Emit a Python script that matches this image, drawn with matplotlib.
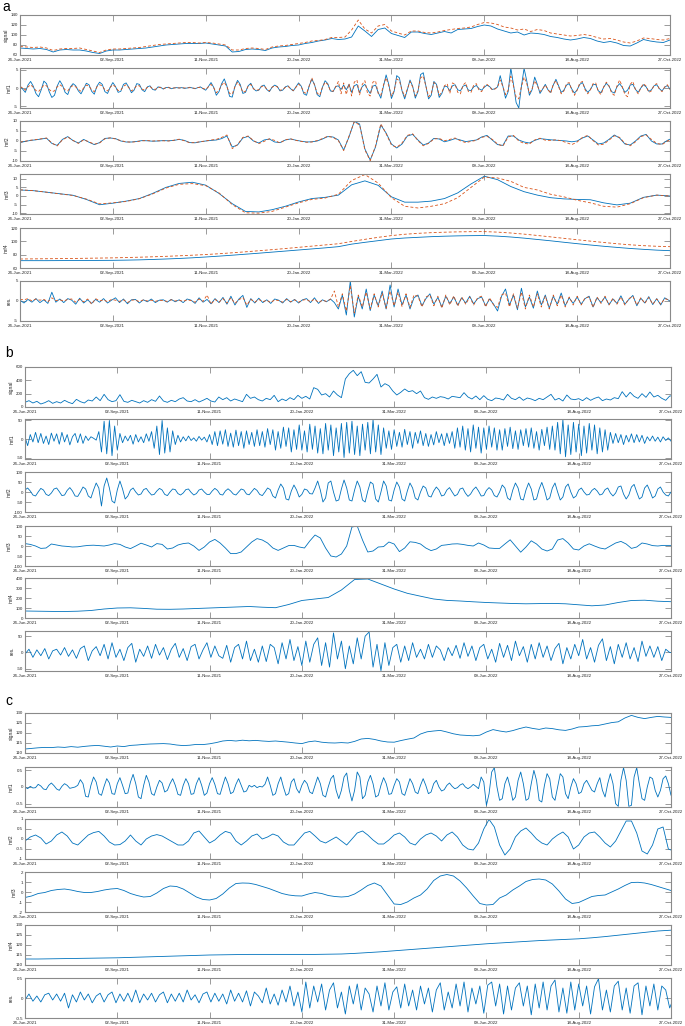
import numpy as np
import matplotlib.pyplot as plt
import matplotlib.dates as mdates

plt.rcParams['font.family'] = ['Liberation Sans', 'DejaVu Sans']
plt.rcParams['axes.unicode_minus'] = False

start = np.datetime64('2021-06-24')
end = np.datetime64('2022-10-27')
tick_dates = np.array(['2021-06-24', '2021-09-02', '2021-11-11', '2022-01-20',
                       '2022-03-31', '2022-06-09', '2022-08-18', '2022-10-27'], dtype='datetime64[D]')

BLUE = '#0072BD'
ORANGE = '#D95319'

# ---------------- panel a (blue = series 1, orange dashed = series 2) ----------------
# signal, every 5 days
a_signal = [74, 73, 72, 73, 71, 66, 70, 71, 70, 70,
            68, 65, 63, 68, 70, 70, 71, 72, 73, 74,
            76, 78, 80, 81, 82, 83, 83, 83, 84, 82,
            80, 78, 66, 67, 71, 72, 71, 69, 74, 76,
            77, 79, 80, 83, 85, 88, 90, 93, 91, 92,
            96, 118, 108, 97, 111, 114, 103, 99, 95, 106,
            106, 103, 101, 104, 107, 104, 111, 112, 113, 117,
            120, 118, 112, 108, 104, 106, 100, 104, 103, 101,
            97, 95, 92, 90, 92, 95, 93, 88, 85, 87,
            84, 79, 78, 84, 91, 88, 86, 85, 90, 90]
a_signal2 = [77, 76, 75, 76, 74, 69, 72, 73, 73, 74,
             71, 68, 65, 70, 72, 72, 73, 74, 75, 77,
             79, 81, 82, 83, 84, 85, 85, 84, 85, 84,
             82, 80, 70, 70, 73, 74, 73, 71, 76, 78,
             79, 81, 83, 85, 88, 89, 91, 95, 95, 96,
             110, 130, 112, 104, 118, 121, 108, 104, 100, 108,
             108, 105, 104, 106, 109, 111, 113, 114, 116, 121,
             125, 124, 121, 116, 114, 110, 112, 107, 111, 109,
             104, 102, 100, 98, 99, 101, 99, 95, 92, 93,
             90, 86, 84, 88, 94, 93, 91, 90, 93, 93]

# imf1, every 2 days
a_imf1 = [0.5, -0.3, -1.2, 0.8, 1.8, 0.5, -1.5, -2.4, -0.5, 1.9,
          1.2, -1.0, -2.6, -2.0, 0.5, 2.0, 0.8, -1.2, -1.8, 0.3,
          1.2, 0.6, -0.8, -1.6, -0.2, 1.3, 0.9, -0.9, -1.7, 0.5,
          1.6, 1.0, -1.0, -1.5, 0.2, 1.5, 0.4, -1.2, -0.9, 1.0,
          1.4, 0.2, -1.3, -0.6, 1.2, 1.0, -0.5, -1.0, 0.3, 0.6,
          -0.4, -0.6, 0.3, 0.2, -0.3, 0.1, 0.2, -0.2, 0.0, 0.1,
          0.0, 0.1, -0.1, 0.0, 0.2, 0.0, -0.2, 0.1, 0.3, -0.2,
          -0.6, 0.4, 1.5, 0.2, -2.0, -1.0, 1.2, 2.5, 0.5, -2.3,
          -2.5, 0.4, 2.1, 1.0, -1.5, -1.2, 0.6, 1.3, -0.2, -0.8,
          -0.6, 0.5, 0.8, -0.4, -1.0, 0.2, 0.8, 0.4, -0.8, -0.6,
          0.3, 0.6, -0.2, -0.8, 0.3, 1.4, 0.5, -1.6, -2.0, 0.6,
          2.4, 1.0, -1.8, -2.4, 0.2, 2.0, 1.2, -0.8, -1.0, 0.4,
          0.6, -0.4, 0.8, -0.5, 1.0, -1.2, 0.6, 1.0, -1.3, 0.4,
          1.0, -0.4, -1.5, 0.5, 0.8, -1.2, -2.8, 0.5, 3.6, 1.0,
          -2.9, -1.0, 3.4, 2.8, -0.8, -3.0, -0.5, 2.2, 0.5, -2.8,
          -1.0, 3.7, 4.2, 0.5, -3.0, -2.0, 1.8, 1.0, -2.6, -1.5,
          0.5, 0.4, -0.8, 0.6, 0.9, -0.5, -0.8, 0.5, 0.8, -0.6,
          -0.7, 0.3, 0.7, -0.2, -0.6, 0.2, 0.8, 0.4, -0.4, -0.2,
          0.3, 3.4, 0.5, -2.8, -1.0, 5.5, 1.0, -4.0, -5.5, 0.5,
          5.4, 2.0, -2.0, -0.5, 3.0, 1.0, -1.5, -0.3, 1.0, -0.5,
          -1.2, 0.8, 2.4, 0.6, -1.2, -0.6, 0.8, 1.2, -0.3, -1.4,
          -0.5, 1.0, 1.5, -0.2, -1.2, -0.4, 0.9, 1.0, -0.8, -1.3,
          0.2, 1.3, 0.5, -1.0, -1.4, 0.3, 1.2, 0.2, -1.2, -0.6,
          0.8, 1.0, -0.4, -1.2, 0.0, 0.9, 0.3, -0.9, -0.5, 0.6,
          0.9, -0.2, -0.8, 0.2, 0.7, -0.3, -0.5, 0.4, 0.5, 0.2]
a_imf1_2 = [0.4, 0.0, -0.6, 0.3, 0.9, 0.2, -0.7, -1.0, -0.1, 0.8,
            0.6, -0.4, -1.0, -0.8, 0.3, 0.9, 0.4, -0.5, -0.8, 0.2,
            0.7, 0.3, -0.4, -0.9, 0.0, 0.8, 0.5, -0.5, -1.0, 0.3,
            0.9, 0.6, -0.5, -0.8, 0.2, 0.9, 0.3, -0.7, -0.6, 0.5,
            0.9, 0.1, -0.8, -0.3, 0.7, 0.6, -0.3, -0.6, 0.2, 0.4,
            -0.2, -0.4, 0.2, 0.1, -0.2, 0.1, 0.1, -0.1, 0.0, 0.1,
            0.0, 0.1, 0.0, 0.0, 0.1, 0.0, -0.1, 0.1, 0.2, -0.1,
            -0.4, 0.3, 1.0, 0.1, -1.3, -0.6, 0.8, 1.6, 0.3, -1.5,
            -1.7, 0.3, 1.6, 0.6, -1.2, -0.9, 0.5, 1.0, -0.2, -0.6,
            -0.5, 0.4, 0.6, -0.3, -0.8, 0.2, 0.6, 0.3, -0.6, -0.5,
            0.2, 0.5, -0.2, -0.7, 0.2, 1.1, 0.4, -1.2, -1.5, 0.5,
            2.8, 0.8, -1.4, -2.0, 0.2, 1.6, 1.0, -0.7, -0.9, 0.3,
            1.8, -1.6, 1.4, -1.8, 1.2, -2.2, 1.6, 2.2, -1.9, 1.0,
            2.0, -1.5, -2.2, 1.6, 2.0, -1.5, -2.0, 0.8, 2.8, 0.6,
            -2.2, -0.8, 2.5, 2.0, -0.6, -2.3, -0.3, 1.8, 0.3, -2.2,
            -0.8, 2.8, 3.3, 0.4, -2.4, -1.6, 1.5, 0.8, -2.0, -1.2,
            0.6, 1.2, -1.5, 1.4, 1.0, -1.2, -1.6, 0.8, 1.5, -1.0,
            -1.2, 0.8, 1.2, -0.6, -1.0, 0.5, 1.0, 0.3, -0.5, -0.3,
            0.3, 2.2, 0.4, -1.8, -0.6, 3.2, 0.6, -2.5, -3.0, 0.4,
            3.0, 1.2, -1.4, -0.3, 2.0, 0.6, -1.0, -0.2, 0.8, -0.4,
            -1.5, 1.0, 2.0, 0.4, -1.6, -0.8, 1.2, 1.5, -0.6, -2.0,
            -0.6, 1.4, 1.8, -0.5, -1.6, -0.5, 1.2, 1.4, -1.0, -1.8,
            0.3, 1.6, 0.6, -1.4, -2.0, 0.5, 2.2, 0.4, -1.8, -2.4,
            1.0, 1.8, -0.5, -1.6, 0.0, 1.2, 0.5, -1.2, -0.8, 0.8,
            1.2, -0.3, -1.0, 0.3, 0.9, -0.4, -0.6, 0.5, 0.7, 0.3]

# imf2, every 4 days
a_imf2 = [-0.8, -0.2, 0.3, 0.6, 1.0, 1.4, -1.2, -2.2, 0.8, 2.2,
          0.2, -1.0, 0.8, -0.6, -1.8, -0.8, 1.3, 1.5, 1.2, 0.0,
          -0.5, -0.5, -0.2, 0.2, 0.1, -0.1, 0.0, 0.2, 0.1, 0.3,
          0.8, 0.3, -0.8, -0.9, -0.4, 0.0, 0.3, 0.5, 1.2, 2.5,
          -3.0, -2.0, 1.5, 2.3, 0.0, -1.0, 0.5, 1.0, -0.5, -0.8,
          0.5, 1.0, 0.4, -0.1, -0.5, -0.4, 0.0, 1.0, 2.2, 2.0,
          0.5, -4.5, 2.0, 9.8, 8.5, -4.0, -9.5, -3.0, 8.0, 4.0,
          -1.5, -3.5, -1.5, 2.5, 3.3, 0.5, -2.0, -1.0, 1.3, 1.0,
          -0.4, 0.3, 1.2, 0.5, -0.3, 0.1, 0.5, 2.0, 2.8, 0.5,
          -1.8, -2.2, 2.5, 2.5, 0.5, -0.5, -1.0, 0.3, 1.2, 0.9,
          0.6, 0.4, 0.2, 0.0, -0.4, 0.0, 1.5, 2.5, 0.5, -1.5,
          -1.0, 0.8, 3.0, 1.5, -1.5, -2.0, 0.0, 2.5, 3.3, 0.0,
          -1.5, -1.5, 0.3, 1.5, 1.5, 1.0, 0.5, 0.0, 0.0, 0.0]
a_imf2_2 = [-0.6, -0.1, 0.4, 0.7, 1.1, 1.5, -1.0, -2.5, 0.6, 2.0,
            0.3, -1.2, 0.6, -0.4, -1.6, -1.0, 1.1, 1.6, 1.0, 0.2,
            -0.4, -0.6, -0.3, 0.1, 0.2, 0.0, 0.1, 0.1, 0.0, 0.4,
            0.9, 0.1, -0.9, -0.8, -0.3, 0.0, 0.5, 0.8, 1.8, 3.0,
            -3.8, -1.8, 1.8, 2.5, 0.2, -1.3, -0.2, 1.1, 0.3, -1.0,
            0.6, 1.1, 0.3, -0.2, -0.6, -0.5, 0.2, 1.2, 2.4, 1.8,
            0.2, -4.8, 2.4, 9.6, 8.0, -4.5, -9.8, -2.5, 8.6, 3.6,
            -2.0, -3.2, -1.0, 2.8, 3.6, 0.2, -2.4, -1.2, 1.0, 1.3,
            0.1, 0.8, 1.5, 0.1, -0.8, -0.2, 0.3, 1.8, 2.4, 0.8,
            -1.5, -2.6, 2.0, 2.8, 0.0, -1.2, -1.5, 0.5, 1.4, 0.4,
            0.3, 0.6, 0.1, -0.8, -1.8, -0.5, 1.8, 2.8, 0.2, -2.0,
            -1.6, 0.4, 2.6, 1.8, -1.2, -2.4, -0.4, 2.2, 3.0, 0.8,
            -1.2, -1.8, 0.0, 1.3, 1.6, 1.0, 0.5, 0.0, 0.0, 0.0]

# imf3, every 10 days
a_imf3 = [3.5, 3.1, 2.2, 1.3, 0.4, -2.0, -5.1, -4.2, -3.0, -1.5,
          1.5, 5.0, 7.3, 8.0, 6.3, 1.5, -4.5, -9.0, -9.3, -8.0,
          -6.0, -3.5, -1.5, -0.8, 0.5, 6.5, 8.8, 6.2, -0.5, -3.6,
          -3.6, -3.0, -1.5, 1.8, 7.0, 11.5, 9.5, 5.5, 2.5, 0.5,
          -1.0, -1.7, -2.0, -2.2, -4.0, -5.2, -4.2, -0.8, 0.5, 0.0]
a_imf3_2 = [3.6, 3.1, 2.2, 1.2, 0.3, -1.8, -4.6, -4.0, -3.2, -1.6,
            1.2, 4.6, 6.8, 7.2, 6.0, 1.8, -5.0, -9.8, -10.0, -9.0,
            -6.5, -4.0, -2.0, -1.2, 1.0, 9.0, 12.5, 7.5, -1.0, -6.0,
            -7.0, -6.0, -4.5, -1.0, 5.0, 11.0, 10.5, 8.5, 5.0, 3.5,
            1.0, -0.5, -2.5, -4.0, -6.0, -6.5, -4.5, -1.0, 0.5, 0.0]

# imf4, every 10 days
a_imf4 = [71.0, 71.0, 71.0, 71.1, 71.2, 71.3, 71.4, 71.5, 71.8, 72.2,
          72.8, 73.5, 74.3, 75.3, 76.5, 77.8, 79.2, 80.7, 82.2, 83.8,
          85.4, 87.0, 88.6, 90.2, 92.0, 95.8, 98.5, 101.0, 103.5, 105.0,
          106.0, 107.0, 107.7, 108.2, 108.5, 108.7, 107.8, 106.5, 104.8, 102.8,
          100.8, 98.6, 96.5, 94.5, 92.6, 90.9, 89.3, 88.0, 86.8, 86.0]
a_imf4_2 = [73.5, 73.7, 73.9, 74.1, 74.3, 74.6, 74.9, 75.2, 75.7, 76.2,
            76.8, 77.5, 78.3, 79.2, 80.2, 81.4, 82.8, 84.3, 85.9, 87.5,
            89.2, 91.0, 92.8, 94.6, 96.4, 99.8, 103.0, 106.0, 108.6, 110.6,
            112.0, 113.0, 113.7, 114.2, 114.5, 114.6, 113.8, 112.5, 110.8, 108.8,
            106.7, 104.5, 102.4, 100.3, 98.3, 96.4, 94.8, 93.5, 92.6, 92.0]

# residual, every 3 days
a_res = [0.2, -0.5, 0.4, -0.3, 0.6, -0.4, 0.3, -0.6, 2.2, -0.3,
         0.5, -0.4, 0.6, 0.2, -0.8, 0.7, -0.5, 0.3, -0.6, 0.4,
         -0.3, 0.6, -0.5, 0.2, 0.8, -0.4, 0.5, -0.7, 0.3, 0.4,
         -0.5, 0.3, -0.2, 0.5, -0.4, 0.2, 0.3, -0.3, 0.4, -0.2,
         0.3, -0.4, 0.5, 0.2, -0.6, 0.8, -0.3, 0.4, -0.7, 0.6,
         -0.4, 0.9, -0.8, 1.2, -1.0, 0.5, 1.4, -1.6, 0.6, -0.5,
         0.7, -0.4, 0.3, -0.6, 0.5, 0.2, -0.5, 0.6, -0.3, 0.4,
         -0.5, 0.3, 0.6, -0.4, 0.8, -0.6, 0.3, -0.2, 0.5, -0.4,
         -2.0, 1.5, -3.5, 5.0, -4.0, 1.2, -2.0, 3.0, -2.4, 1.5,
         -1.2, 2.5, -2.0, 4.0, -1.5, 3.0, -1.0, 1.5, -2.0, 0.8,
         1.5, -1.2, 0.6, 1.8, -0.8, 0.9, -1.5, 1.2, -0.6, 1.0,
         -1.0, 0.8, -0.5, 1.2, -0.7, 0.6, 1.0, -1.2, 0.5, -0.8,
         -2.5, 1.2, 3.0, -1.0, 1.5, -2.2, 3.2, -1.5, 1.0, -1.8,
         2.5, -1.0, 1.5, -1.8, 1.2, -0.8, 2.0, -1.2, 0.8, -0.6,
         1.0, -0.8, 0.6, 1.2, -1.5, 0.8, -0.4, 1.0, -0.9, 0.5,
         -0.6, 1.3, -0.8, 0.4, 1.4, -1.2, 0.7, -0.5, 1.1, -0.9,
         0.6, -1.0, 0.8, 0.2, -0.5, 0.4, 0.0, 0.0, 0.0, 0.0]
a_res2 = [0.4, 0.3, 0.6, 0.0, 0.5, 0.2, 0.4, -0.2, 0.8, 0.1,
          0.3, 0.0, 0.4, 0.5, -0.3, 0.4, -0.2, 0.5, -0.8, 0.6,
          0.0, 0.3, -0.2, 0.4, 0.2, -0.1, 0.3, -0.4, 0.2, 0.3,
          -0.2, 0.3, 0.0, 0.2, -0.1, 0.2, 0.1, -0.1, 0.3, 0.0,
          0.2, -0.1, 0.3, 0.1, -0.3, 0.5, -0.1, 1.5, -0.8, 0.4,
          -0.3, 0.6, -0.5, 0.8, -0.6, 0.3, 0.9, -1.0, 0.4, -0.3,
          0.4, -0.2, 0.2, -0.4, 0.3, 0.1, -0.3, 0.4, -0.2, 0.3,
          -0.3, 0.2, 0.4, -0.2, 0.5, -0.4, 0.2, -0.1, 0.4, 2.5,
          -1.5, 1.8, -2.5, 3.8, -3.0, 1.5, -1.5, 2.2, -2.0, 1.8,
          -1.5, 2.0, -1.8, 2.5, -1.2, 2.2, -1.4, 1.8, -1.6, 1.5,
          1.2, -1.5, 1.0, 1.5, -1.2, 1.2, -1.8, 1.5, -1.0, 1.3,
          -1.3, 1.0, -0.8, 1.0, -1.0, 0.8, 1.2, -1.5, 0.8, -1.0,
          -1.6, 1.5, 2.0, -1.5, 1.8, -1.8, 2.2, -2.0, 1.5, -1.5,
          1.8, -1.5, 1.2, -2.0, 1.5, -1.2, 1.5, -1.5, 1.0, -1.0,
          1.2, -1.0, 0.8, 1.0, -1.6, 1.0, -0.6, 1.2, -1.0, 0.7,
          -0.8, 1.0, -1.0, 0.6, 1.2, -1.0, 0.8, -0.6, 0.9, -0.8,
          0.5, -0.8, 0.6, 0.3, -0.4, 0.3, 0.0, 0.0, 0.0, 0.0]

# ---------------- panel b ----------------
# signal, every 3 days
b_signal = [70, 95, 60, 85, 45, 65, 95, 55, 80, 60,
            100, 70, 50, 115, 80, 60, 105, 90, 150, 95,
            190, 110, 80, 95, 185, 85, 70, 100, 80, 60,
            95, 70, 110, 85, 165, 90, 70, 100, 80, 120,
            140, 90, 80, 110, 75, 100, 130, 90, 75, 150,
            110, 140, 90, 120, 100, 80, 190, 130, 150, 110,
            90, 130, 110, 175, 80, 120, 95, 140, 110, 175,
            130, 160, 120, 290, 265, 180, 200, 150, 240, 180,
            140, 420, 500, 550, 470, 530, 370, 360, 420, 490,
            300, 350, 320, 240, 180, 220, 270, 230, 245, 200,
            240, 140, 115, 150, 130, 155, 145, 120, 160, 150,
            140, 215, 150, 120, 165, 110, 170, 115, 95, 135,
            125, 105, 190, 130, 110, 150, 100, 135, 120, 95,
            130, 110, 150, 190, 105, 130, 90, 180, 120, 110,
            125, 95, 140, 100, 130, 150, 95, 120, 105, 140,
            125, 230, 150, 220, 160, 130, 200, 145, 225, 150,
            175, 130, 100, 165, 170, 160, 160, 160, 160, 160]

# imf1, every 2 days
b_imf1 = [5, -18, 12, -8, 18, -10, 15, -12, 8, -15,
          16, -6, 14, -14, 18, -8, 12, -16, 6, 15,
          -10, 14, -12, 8, -4, 6, 2, -3, 20, -35,
          48, -40, 50, -45, 35, -30, 15, -10, 8, -5,
          10, -14, 12, -8, 6, -10, 14, -6, 20, -25,
          35, -42, 50, -38, 30, -35, 22, -15, 10, -8,
          6, -5, 8, -4, 3, -6, 7, -3, 5, -8,
          12, -15, 20, -18, 22, -14, 25, -20, 16, -22,
          24, -18, 20, -25, 22, -15, 18, -20, 25, -18,
          20, -22, 28, -15, 25, -30, 20, -25, 32, -20,
          30, -35, 25, -28, 38, -30, 22, -35, 40, -28,
          35, -38, 28, -40, 42, -30, 38, -45, 30, -35,
          42, -50, 45, -38, 48, -42, 35, -45, 40, -30,
          45, -40, 52, -35, 38, -42, 30, -25, 22, -28,
          25, -20, 18, -22, 26, -15, 20, -25, 18, -12,
          22, -18, 15, -20, 12, -16, 20, -10, 14, -18,
          16, -12, 20, -25, 30, -22, 35, -30, 28, -35,
          38, -25, 32, -38, 30, -28, 35, -22, 30, -30,
          25, -30, 28, -20, 32, -26, 22, -28, 25, -18,
          28, -22, 30, -25, 20, -30, 26, -18, 32, -28,
          35, -30, 45, -40, 52, -48, 38, -42, 45, -35,
          40, -45, 35, -38, 42, -30, 38, -40, 30, -35,
          25, -30, 18, -12, 15, -10, 12, -15, 10, -8,
          14, -10, 12, -8, 10, -12, 6, -5, 8, -6,
          5, -8, 6, -4, 3, -6, 5, 0, 0, 0]

# imf2, every 2 days
b_imf2 = [10, 20, 5, -15, -20, 0, 18, 10, -12, -18,
          -5, 15, 20, 2, -18, -15, 8, 22, 5, -20,
          -22, 0, 25, 15, -20, -30, 10, 45, 20, -70,
          30, 70, 20, -45, -55, 10, 55, 15, -35, -20,
          10, 20, 0, -15, -10, 12, 18, 0, -15, -12,
          5, 18, 10, -12, -18, 0, 15, 12, -8, -15,
          -5, 12, 15, -2, -15, -8, 10, 15, 0, -12,
          -12, 5, 18, 8, -12, -15, 5, 16, 5, -10,
          -15, 0, 15, 10, -10, -14, 2, 18, 8, -12,
          -18, 0, 20, 12, -20, -30, 10, 40, 20, -35,
          -40, 5, 35, 10, -25, -12, 15, 10, -8, -10,
          20, 55, 10, -50, -30, 45, 55, 0, -45, -40,
          15, 60, 20, -40, -45, 10, 55, 25, -40, -50,
          5, 50, 40, -35, -50, 0, 55, 30, -40, -45,
          10, 50, 25, -35, -45, 5, 45, 20, -30, -40,
          0, 30, 20, -20, -25, 5, 25, 10, -20, -15,
          10, 22, 0, -20, -12, 15, 20, -5, -22, -10,
          12, 25, 5, -20, -18, 8, 22, 10, -18, -25,
          0, 35, 20, -30, -40, 10, 45, 20, -35, -40,
          10, 45, 15, -40, -35, 15, 48, 10, -40, -30,
          20, 45, 0, -40, -25, 25, 40, 0, -30, -20,
          10, 20, 0, -15, -12, 8, 18, 5, -15, -10,
          12, 20, -5, -20, -5, 25, 30, -10, -35, -15,
          25, 38, 0, -35, -25, 20, 35, 5, -30, -20,
          15, 25, 0, -15, -20, 0, 0, 0, 0, 0]

# imf3, every 4 days
b_imf3 = [12, 8, 0, -12, -10, 10, 5, 0, -2, -5,
          -4, 0, 3, 4, 2, 0, 5, 12, 8, -5,
          -13, 0, 14, 5, -5, 12, 8, -15, -10, 5,
          12, 15, 0, -22, -5, 20, 33, 15, -10, -38,
          -38, -30, -5, 20, 37, 30, 15, -10, -22, -10,
          2, 3, -5, -10, 25, 55, 40, -10, -50, -55,
          -40, 0, 95, 100, 30, -30, -25, -5, -3, 20,
          10, -28, -10, 21, 18, 10, -10, -23, -15, 3,
          6, 10, 11, 8, 3, 0, 15, 5, -10, -12,
          -12, 10, 31, 0, -31, -5, 26, 10, -15, -25,
          -15, 30, 37, 15, -15, -20, 0, 11, 0, -10,
          -15, 0, 15, 23, 10, -12, -5, 15, 10, 2,
          0, 3, 3, 3, 3, 3, 3, 3, 3, 3]

# imf4, every 10 days
b_imf4 = [70, 68, 66, 65, 68, 75, 90, 100, 102, 96,
          88, 87, 90, 95, 100, 105, 110, 115, 108, 103,
          135, 175, 190, 205, 280, 385, 390, 340, 290, 247,
          218, 190, 176, 170, 162, 155, 150, 145, 142, 144,
          146, 142, 132, 122, 130, 155, 175, 178, 168, 163]

# residual, every 3 days
b_res = [-5, 10, -15, 8, -10, 12, -20, 5, 10, -8,
         15, -12, 8, -18, 12, 20, -25, 5, 18, -10,
         25, -20, 30, -15, 10, -25, 15, 28, -30, 10,
         -12, 20, -18, 25, -8, 15, -22, 10, 28, -15,
         12, -25, 18, 25, -20, 8, 30, -15, 20, -10,
         -18, 22, -30, 15, 25, -20, 35, -25, 10, -30,
         20, -28, 25, 15, -35, 30, -20, 40, -25, 18,
         -40, 35, -30, 25, 45, -40, 30, -45, 60, -20,
         35, -50, 20, -35, 45, -20, 50, 63, -45, 25,
         -56, 30, -40, 15, 25, -30, 20, -25, 30, -15,
         10, -20, 25, -15, 20, 8, -25, 15, -10, 22,
         -18, 30, -12, 20, -25, 15, 25, -20, 10, -30,
         28, -15, 22, -25, 35, -10, 18, -30, 25, -20,
         30, -15, 20, -25, 12, 28, -35, 15, -20, 25,
         -10, 40, -20, 15, -30, 22, 42, -25, 18, -35,
         25, -15, 30, -20, 15, -28, 35, -12, 20, -15,
         18, -25, 10, 0, 0, 0, 0, 0, 0, 0]

# ---------------- panel c ----------------
# signal, every 5 days
c_signal = [112.0, 112.3, 112.6, 112.8, 112.7, 113.0, 112.8, 113.2, 112.9, 113.3,
            113.6, 113.8, 113.4, 113.0, 113.5, 113.2, 113.8, 114.0, 114.3, 114.5,
            114.6, 114.7, 114.5, 114.0, 113.7, 113.9, 114.3, 114.2, 114.6, 115.2,
            116.0, 116.3, 116.0, 116.4, 116.1, 116.3, 116.0, 115.8, 116.0, 115.7,
            115.4, 115.0, 114.7, 115.6, 116.0, 115.4, 115.1, 115.0, 115.2, 115.0,
            115.8, 117.0, 117.3, 116.8, 116.0, 115.5, 115.4, 116.2, 116.9, 117.5,
            119.5, 120.6, 121.0, 121.3, 120.5, 119.6, 119.0, 118.8, 118.6, 118.9,
            120.5, 121.7, 121.0, 120.5, 121.2, 122.2, 123.0, 122.3, 121.8, 122.5,
            122.2, 121.6, 121.3, 122.0, 123.0, 123.2, 123.6, 123.8, 124.5, 125.2,
            125.6, 127.5, 128.8, 127.8, 127.2, 127.8, 128.3, 128.0, 127.8, 126.5]

# imf1, every 2 days
c_imf1 = [0.0, -0.05, 0.02, -0.03, -0.02, 0.08, 0.03, -0.06, -0.08, 0.05,
          0.12, 0.04, -0.06, -0.1, 0.02, 0.1, 0.05, -0.04, -0.02, 0.0,
          0.05, 0.22, 0.1, -0.28, -0.3, 0.05, 0.3, 0.15, -0.2, -0.25,
          0.02, 0.25, 0.12, -0.2, -0.22, 0.1, 0.28, 0.05, -0.2, -0.18,
          0.15, 0.38, 0.1, -0.3, -0.35, 0.05, 0.35, 0.15, -0.2, -0.25,
          0.0, 0.2, 0.12, -0.15, -0.1, 0.1, 0.25, 0.05, -0.22, -0.25,
          0.05, 0.25, 0.1, -0.22, -0.2, 0.1, 0.28, 0.05, -0.25, -0.18,
          0.1, 0.28, 0.08, -0.2, -0.22, 0.05, 0.3, 0.1, -0.2, -0.15,
          0.08, 0.25, 0.05, -0.15, -0.12, 0.05, 0.0, 0.05, -0.02, 0.02,
          0.0, 0.08, 0.3, 0.05, -0.25, -0.2, 0.1, 0.3, 0.0, -0.25,
          -0.2, 0.15, 0.25, -0.05, -0.18, 0.05, 0.2, 0.1, -0.15, -0.2,
          0.05, 0.3, 0.1, -0.25, -0.3, 0.0, 0.25, 0.35, -0.1, -0.35,
          -0.1, 0.3, 0.42, -0.1, -0.42, -0.1, 0.45, 0.3, -0.35, -0.25,
          0.15, 0.35, 0.1, -0.3, -0.25, 0.05, 0.28, 0.1, -0.22, -0.2,
          0.05, 0.25, 0.15, -0.2, -0.25, 0.0, 0.25, 0.1, -0.15, -0.2,
          0.05, 0.25, 0.05, -0.2, -0.15, 0.1, 0.2, 0.0, -0.12, -0.08,
          0.05, 0.12, 0.02, -0.05, -0.02, 0.06, 0.1, 0.0, -0.05, 0.0,
          0.08, 0.02, -0.05, 0.3, 0.15, -0.55, -0.2, 0.45, 0.58, 0.0,
          -0.4, -0.35, 0.1, 0.3, 0.0, -0.4, -0.3, 0.2, 0.45, 0.1,
          -0.4, -0.35, 0.1, 0.5, 0.2, -0.4, -0.45, 0.05, 0.4, 0.25,
          -0.3, -0.4, 0.0, 0.4, 0.3, -0.2, -0.35, 0.0, 0.25, 0.1,
          -0.2, -0.15, 0.1, 0.2, 0.05, -0.1, -0.15, 0.1, 0.28, -0.1,
          -0.3, 0.1, 0.4, 0.1, -0.5, -0.58, 0.2, 0.58, 0.2, -0.58,
          -0.55, 0.3, 0.58, 0.1, -0.35, -0.4, 0.0, 0.3, 0.25, -0.1,
          -0.3, -0.1, 0.25, 0.33, 0.1, -0.25, -0.25, 0.0, 0.0, 0.0]

# imf2, every 4 days
c_imf2 = [-0.1, 0.1, 0.2, 0.05, -0.25, -0.1, 0.2, 0.35, 0.15, -0.2,
          -0.3, -0.05, 0.2, 0.32, 0.38, 0.15, -0.15, -0.3, -0.28, -0.1,
          0.2, -0.1, -0.3, 0.0, 0.15, 0.22, 0.15, 0.0, -0.15, -0.3,
          -0.3, -0.1, 0.3, 0.4, 0.1, -0.2, -0.05, 0.2, 0.38, 0.3,
          -0.1, -0.3, -0.1, 0.15, 0.25, 0.0, 0.1, 0.25, 0.15, -0.15,
          -0.3, -0.3, 0.0, 0.3, 0.38, 0.15, -0.1, -0.2, -0.05, 0.1,
          -0.1, -0.3, 0.0, 0.3, 0.4, 0.2, -0.05, -0.25, -0.25, -0.05,
          0.2, 0.3, 0.1, -0.2, -0.3, 0.0, 0.2, 0.3, 0.15, -0.1,
          0.2, 0.35, 0.1, -0.3, -0.5, -0.55, -0.2, 0.5, 0.98, 0.6,
          -0.3, -0.8, -0.5, 0.1, 0.4, 0.55, 0.3, 0.0, -0.2, -0.3,
          0.0, 0.2, 0.35, 0.1, -0.5, -0.3, 0.1, 0.3, 0.35, 0.1,
          -0.2, -0.4, -0.1, 0.4, 0.9, 0.9, 0.3, -0.6, -0.75, -0.3,
          0.5, 0.6, -0.5, -0.6, -0.6, -0.6, -0.6, -0.6, -0.6, -0.6]

# imf3, every 5 days
c_imf3 = [-0.55, -0.4, -0.15, -0.05, 0.15, 0.25, 0.3, 0.2, 0.05, -0.05,
          -0.05, 0.05, 0.2, 0.3, 0.35, 0.15, -0.15, -0.35, -0.5, -0.45,
          -0.1, 0.35, 0.6, 0.55, 0.3, -0.1, -0.5, -0.75, -0.8, -0.65,
          -0.2, 0.4, 0.85, 0.9, 0.88, 0.75, 0.55, 0.35, 0.1, -0.15,
          -0.3, -0.38, -0.4, -0.2, -0.05, -0.15, -0.35, -0.45, -0.5, -0.45,
          -0.2, 0.2, 0.65, 0.9, 0.6, -0.3, -1.2, -1.25, -1.0, -0.6,
          -0.3, 0.3, 1.15, 1.6, 1.75, 1.6, 1.1, 0.4, -0.4, -1.15,
          -1.3, -1.25, -0.6, -0.3, 0.2, 0.6, 1.05, 1.25, 1.3, 1.2,
          0.8, 0.1, -0.7, -1.15, -1.05, -0.75, -0.45, -0.35, -0.3, 0.0,
          0.3, 0.65, 0.95, 0.97, 0.9, 0.75, 0.55, 0.35, 0.15, 0.15]

# imf4, every 10 days
c_imf4 = [113.0, 113.0, 113.1, 113.2, 113.3, 113.4, 113.5, 113.6, 113.8, 114.0,
          114.2, 114.4, 114.6, 114.8, 115.0, 115.1, 115.2, 115.3, 115.3, 115.3,
          115.3, 115.3, 115.3, 115.4, 115.5, 115.8, 116.2, 116.6, 117.1, 117.6,
          118.1, 118.6, 119.1, 119.6, 120.1, 120.6, 121.0, 121.4, 121.8, 122.2,
          122.5, 122.8, 123.1, 123.6, 124.2, 124.9, 125.6, 126.3, 127.0, 127.4]

# residual, every 3 days
c_res = [-0.05, 0.1, -0.08, 0.05, -0.1, 0.08, 0.12, -0.05, 0.1, -0.08,
         0.12, -0.25, 0.08, -0.1, 0.15, -0.05, 0.1, -0.12, 0.05, 0.12,
         -0.1, 0.08, 0.15, -0.12, 0.1, -0.08, 0.12, -0.1, 0.2, -0.12,
         0.1, -0.05, 0.12, -0.1, 0.08, 0.15, -0.12, 0.1, -0.08, 0.12,
         -0.1, 0.2, -0.05, 0.08, -0.12, 0.1, 0.15, -0.1, 0.12, -0.08,
         0.1, -0.15, 0.2, -0.08, 0.12, -0.1, 0.18, -0.2, 0.15, 0.05,
         -0.12, 0.25, -0.15, 0.1, -0.18, 0.2, -0.1, 0.3, -0.2, 0.15,
         -0.35, 0.4, -0.25, 0.3, -0.1, 0.35, -0.3, 0.2, 0.38, -0.25,
         0.15, -0.4, 0.3, -0.15, 0.35, -0.3, 0.25, 0.1, -0.35, 0.3,
         -0.2, 0.38, -0.3, 0.15, 0.28, -0.25, 0.35, -0.2, 0.2, -0.3,
         0.3, -0.15, 0.25, -0.35, 0.2, 0.38, -0.3, 0.15, -0.25, 0.35,
         -0.2, 0.4, -0.35, 0.25, -0.15, 0.3, -0.38, 0.32, 0.4, -0.2,
         0.35, -0.4, 0.3, -0.3, 0.25, 0.38, -0.2, 0.3, -0.42, 0.35,
         -0.25, 0.4, -0.3, 0.3, 0.45, -0.35, 0.25, -0.38, 0.4, -0.3,
         0.35, -0.2, 0.3, -0.4, 0.28, 0.48, -0.3, 0.2, -0.35, 0.3,
         0.42, -0.3, 0.25, -0.38, 0.3, 0.38, -0.42, 0.3, -0.2, 0.35,
         -0.3, 0.3, 0.2, -0.25, 0.0, 0.0, 0.0, 0.0, 0.0, 0.0]

labels = ['signal', 'imf1', 'imf2', 'imf3', 'imf4', 'res.']


def days(vals, step):
    return start + np.arange(len(vals)) * np.timedelta64(step, 'D')


W, H = 685, 1026
fig = plt.figure(figsize=(W / 100, H / 100), dpi=100)


def make_ax(left, top, right, h=40):
    return fig.add_axes([left / W, 1 - (top + h) / H, (right - left) / W, h / H])


def style(ax, ylim, yticks, ylabel):
    ax.set_xlim(start, end)
    ax.set_xticks(mdates.date2num(tick_dates))
    ax.xaxis.set_major_formatter(mdates.DateFormatter('%d-%b-%Y'))
    ax.set_ylim(*ylim)
    ax.set_yticks(yticks)
    ax.set_yticklabels(['%g' % v for v in yticks])
    ax.tick_params(direction='in', top=True, right=True, length=4.5, width=0.6,
                   color='#8a8a8a', labelsize=3.2, pad=1.5, labelcolor='#262626')
    ax.tick_params(axis='x', pad=2)
    for s in ax.spines.values():
        s.set_color('#8a8a8a')
        s.set_linewidth(0.8)
    ax.set_ylabel(ylabel, fontsize=3.6, labelpad=1.5, color='#262626')


# group a
a_tops = [15, 68, 121, 174, 228, 281]
a_series = [(a_signal, a_signal2, 5, (60, 140), [60, 80, 100, 120, 140]),
            (a_imf1, a_imf1_2, 2, (-5.5, 5.5), [-5, 0, 5]),
            (a_imf2, a_imf2_2, 4, (-10, 10), [-10, -5, 0, 5, 10]),
            (a_imf3, a_imf3_2, 10, (-10.5, 12.8), [-10, -5, 0, 5, 10]),
            (a_imf4, a_imf4_2, 10, (60, 120), [60, 80, 100, 120]),
            (a_res, a_res2, 3, (-5, 5), [-5, 0, 5])]
for top, (s1, s2, step, yl, yt), lab in zip(a_tops, a_series, labels):
    ax = make_ax(20, top, 670)
    ax.plot(days(s1, step), s1, color=BLUE, lw=0.6)
    ax.plot(days(s2, step), s2, color=ORANGE, lw=0.6, ls=(0, (3.5, 2.5)))
    style(ax, yl, yt, lab)

# group b
b_tops = [367, 419, 472, 526, 578, 631]
b_series = [(b_signal, 3, (0, 600), [0, 200, 400, 600]),
            (b_imf1, 2, (-54, 54), [-50, 0, 50]),
            (b_imf2, 2, (-100, 100), [-100, -50, 0, 50, 100]),
            (b_imf3, 4, (-100, 100), [-100, -50, 0, 50, 100]),
            (b_imf4, 10, (0, 400), [0, 100, 200, 300, 400]),
            (b_res, 3, (-57, 66), [-50, 0, 50])]
for top, (s, step, yl, yt), lab in zip(b_tops, b_series, labels):
    ax = make_ax(25, top, 671)
    ax.plot(days(s, step), s, color=BLUE, lw=0.6)
    style(ax, yl, yt, lab)

# group c
c_tops = [713, 767, 819, 872, 925, 978]
c_series = [(c_signal, 5, (110, 130), [110, 115, 120, 125, 130]),
            (c_imf1, 2, (-0.6, 0.6), [-0.5, 0, 0.5]),
            (c_imf2, 4, (-1, 1), [-1, -0.5, 0, 0.5, 1]),
            (c_imf3, 5, (-2, 2), [-2, -1, 0, 1, 2]),
            (c_imf4, 10, (110, 130), [110, 115, 120, 125, 130]),
            (c_res, 3, (-0.5, 0.5), [-0.5, 0, 0.5])]
for top, (s, step, yl, yt), lab in zip(c_tops, c_series, labels):
    ax = make_ax(25, top, 671)
    ax.plot(days(s, step), s, color=BLUE, lw=0.6)
    style(ax, yl, yt, lab)

fig.text(2 / W, 1 - 7 / H, 'a', fontsize=10, va='center', ha='left')
fig.text(5 / W, 1 - 353 / H, 'b', fontsize=10, va='center', ha='left')
fig.text(5 / W, 1 - 701 / H, 'c', fontsize=10, va='center', ha='left')

fig.savefig('out.png', dpi=100)
